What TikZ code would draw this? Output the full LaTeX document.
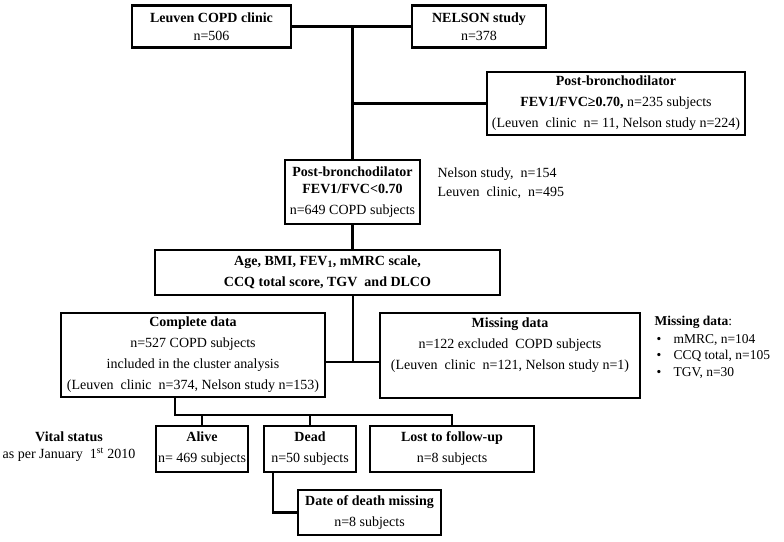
\documentclass[tikz,border=0pt]{standalone}
\usepackage{fontspec}
\setmainfont{Liberation Serif}
\usepackage{tikz}

\tikzset{
  box/.style={draw, line width=2.9pt, align=center, inner sep=1pt, font=\fontsize{14}{21}\selectfont},
  link/.style={line width=2.9pt},
}
\newcommand{\wsp}{\hspace{3.5pt} }

\begin{document}
\begin{tikzpicture}[x=1pt, y=-1pt]
  \useasboundingbox (0,0) rectangle (784,541);

  \node[box, minimum width=159pt, minimum height=42pt] (leuven) at (211.5,26.5) {\textbf{Leuven COPD clinic}\\[-3pt]n=506};
  \node[box, minimum width=134pt, minimum height=42pt] (nelson) at (479,26.5) {\textbf{NELSON study}\\[-3pt]n=378};
  \node[box, minimum width=258pt, minimum height=63pt] (ppos) at (616,103.5) {\textbf{Post-bronchodilator}\\\textbf{FEV1/FVC≥0.70,} n=235 subjects\\(Leuven\wsp clinic\wsp n= 11, Nelson study n=224)};
  \node[box, minimum width=135pt, minimum height=64pt] (pneg) at (352.5,192) {\textbf{Post-bronchodilator}\\[-4pt]\textbf{FEV1/FVC<0.70}\\n=649 COPD subjects};
  \node[anchor=west, align=left, font=\fontsize{14}{19}\selectfont] (cohorts) at (434,183.5) {Nelson study,\wsp n=154\\Leuven\wsp clinic,\wsp n=495};
  \node[box, minimum width=345pt, minimum height=45pt] (vars) at (327.5,272.5) {\textbf{Age, BMI, FEV\textsubscript{1}, mMRC scale,}\\\textbf{CCQ total score, TGV\wsp and DLCO}};

  \node[box, minimum width=264pt, minimum height=84pt] (comp) at (193,355) {\textbf{Complete data}\\n=527 COPD subjects\\included in the cluster analysis\\(Leuven\wsp clinic\wsp n=374, Nelson study n=153)};
  \node[box, minimum width=260pt, minimum height=85pt] (miss) at (510,355.5) {\textbf{Missing data}\\n=122 excluded\wsp COPD subjects\\(Leuven\wsp clinic\wsp n=121, Nelson study n=1)\\[2pt]\mbox{}};
  \node[anchor=west, align=left, font=\fontsize{13.5}{16.5}\selectfont] (mlist) at (651,347) {\textbf{Missing data}:\\[1.5pt]\hspace*{2pt}\makebox[17pt][l]{\textbullet}mMRC, n=104\\\hspace*{2pt}\makebox[17pt][l]{\textbullet}CCQ total, n=105\\\hspace*{2pt}\makebox[17pt][l]{\textbullet}TGV, n=30};

  % vital status
  \node[align=center, font=\fontsize{14}{17}\selectfont] (vital) at (69,446.5) {\textbf{Vital status}\\as per January\wsp 1\textsuperscript{st} 2010};
  \node[box, minimum width=92pt, minimum height=46pt] (alive) at (202,449) {\textbf{Alive}\\n= 469 subjects};
  \node[box, minimum width=92pt, minimum height=46pt] (dead) at (310,449) {\textbf{Dead}\\n=50 subjects};
  \node[box, minimum width=164pt, minimum height=46pt] (lost) at (452,449) {\textbf{Lost to follow-up}\\n=8 subjects};
  \node[box, minimum width=143pt, minimum height=45pt] (ddm) at (369.5,512.5) {\textbf{Date of death missing}\\n=8 subjects};

  \draw[link] (leuven.east) -- (nelson.west);
  \draw[link] (pneg.north |- leuven.east) -- (pneg.north);
  \draw[link] (pneg.north |- ppos.west) -- (ppos.west);
  \draw[link] (pneg.south) -- (pneg.south |- vars.north);
  \coordinate (split) at (353,362);
  \draw[link] (vars.south -| split) -- (split);
  \draw[link] (comp.east |- split) -- (miss.west |- split);
  \coordinate (bus) at (175,415);
  \draw[link] (comp.south -| bus) -- (bus) -- (bus -| lost.north) -- (lost.north);
  \draw[link] (alive.north) -- (alive.north |- bus);
  \draw[link] (dead.north) -- (dead.north |- bus);
  \draw[link] ([xshift=-37pt]dead.south) |- (ddm.west);
\end{tikzpicture}
\end{document}
